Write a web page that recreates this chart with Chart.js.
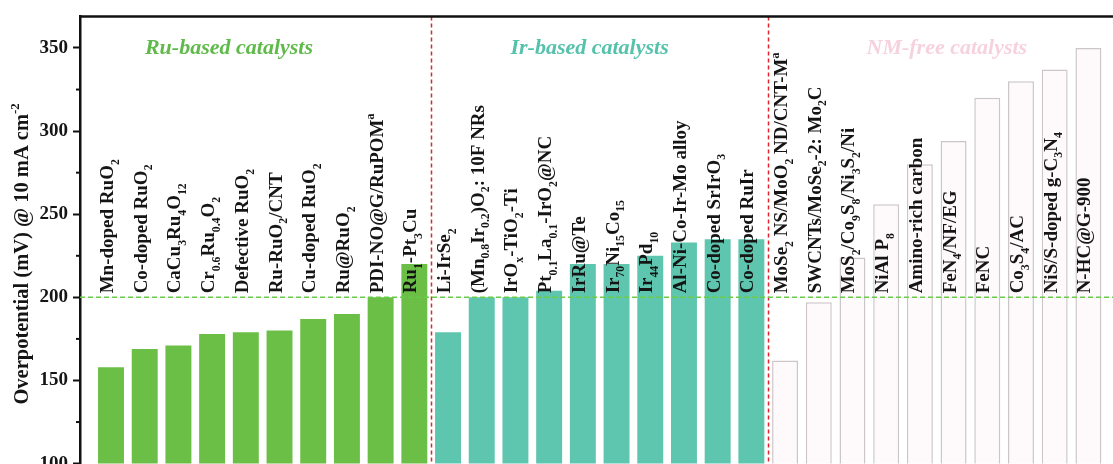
<!DOCTYPE html>
<html>
<head>
<meta charset="utf-8">
<script src="https://cdn.jsdelivr.net/npm/chart.js@4.4.1/dist/chart.umd.min.js"></script>
<style>
    html, body { margin: 0; padding: 0; background: #fff; overflow: hidden; }
    #wrap { width: 1113px; height: 480px; position: relative; }
</style>
</head>
<body>
<div id="wrap"><canvas id="ichart"></canvas></div>
<script>
//Catalyst names (_{..} = subscript, ^{..} = superscript) and overpotentials in mV
const ruLabels = ["Mn-doped RuO_{2}", "Co-doped RuO_{2}", "CaCu_{3}Ru_{4}O_{12}", "Cr_{0.6}Ru_{0.4}O_{2}", "Defective RuO_{2}",
    "Ru-RuO_{2}/CNT", "Cu-doped RuO_{2}", "Ru@RuO_{2}", "PDI-NO@G/RuPOM^{a}", "Ru_{1}-Pt_{3}Cu"];
const ruValues = [158, 169, 171, 178, 179, 180, 187, 190, 200, 220];

const irLabels = ["Li-IrSe_{2}", "(Mn_{0.8}Ir_{0.2})O_{2}: 10F NRs", "IrO_{x}-TiO_{2}-Ti", "Pt_{0.1}La_{0.1}-IrO_{2}@NC", "IrRu@Te",
    "Ir_{70}Ni_{15}Co_{15}", "Ir_{44}Pd_{10}", "Al-Ni-Co-Ir-Mo alloy", "Co-doped SrIrO_{3}", "Co-doped RuIr"];
const irValues = [179, 200, 200, 204, 220, 220, 225, 233, 235, 235];

const nmLabels = ["MoSe_{2} NS/MoO_{2} ND/CNT-M^{a}", "SWCNTs/MoSe_{2}-2: Mo_{2}C", "MoS_{2}/Co_{9}S_{8}/Ni_{3}S_{2}/Ni", "NiAl P_{8}",
    "Amino-rich carbon", "FeN_{4}/NF/EG", "FeNC", "Co_{3}S_{4}/AC", "NiS/S-doped g-C_{3}N_{4}", "N-HC@G-900"];
const nmValues = [162, 197, 224, 256, 280, 294, 320, 330, 337, 350];

const groupTitles = ["Ru-based catalysts", "Ir-based catalysts", "NM-free catalysts"];
const refLine = 200; //<--- benchmark overpotential

const serif = '"Liberation Serif", "Times New Roman", serif';
const allLabels = ruLabels.concat(irLabels, nmLabels);

function toPoints(values, start) {
    return values.map((v, i) => ({ x: start + i, y: v }));
}

//Splitting "RuO_{2}" into plain / sub / sup pieces
function parseRich(str) {
    const parts = [];
    const re = /([_^])\{([^}]*)\}/g;
    let last = 0, m;
    while ((m = re.exec(str)) !== null) {
        if (m.index > last) parts.push({ t: str.slice(last, m.index), k: "" });
        parts.push({ t: m[2], k: m[1] });
        last = re.lastIndex;
    }
    if (last < str.length) parts.push({ t: str.slice(last), k: "" });
    return parts;
}

function drawRich(ctx, str, x, y, size, color, align) {
    const parts = parseRich(str);
    const font = s => `bold ${s}px ${serif}`;
    let total = 0;
    parts.forEach(p => {
        ctx.font = font(p.k ? size * 0.62 : size);
        p.w = ctx.measureText(p.t).width;
        total += p.w;
    });
    let cx = align === "center" ? x - total / 2 : x;
    ctx.fillStyle = color;
    ctx.textBaseline = "alphabetic";
    ctx.textAlign = "left";
    parts.forEach(p => {
        ctx.font = font(p.k ? size * 0.62 : size);
        const dy = p.k === "_" ? size * 0.3 : (p.k === "^" ? -size * 0.45 : 0);
        ctx.fillText(p.t, cx, y + dy);
        cx += p.w;
    });
}

//Dashed guides, frame, minor ticks, names and titles
const decorPlugin = {
    id: "decor",
    afterDatasetsDraw(chart) {
        const { ctx, chartArea: a, scales: { x, y } } = chart;
        ctx.save();

        //separators between catalyst groups
        ctx.strokeStyle = "#e0262b";
        ctx.lineWidth = 1.5;
        ctx.setLineDash([4, 3]);
        [9.5, 19.5].forEach(v => {
            const px = Math.round(x.getPixelForValue(v)) + 0.5;
            ctx.beginPath();
            ctx.moveTo(px, a.top);
            ctx.lineTo(px, a.bottom);
            ctx.stroke();
        });

        //benchmark line
        ctx.strokeStyle = "#6acb4a";
        ctx.setLineDash([5, 3]);
        const py = y.getPixelForValue(refLine);
        ctx.beginPath();
        ctx.moveTo(a.left, py);
        ctx.lineTo(a.right, py);
        ctx.stroke();
        ctx.setLineDash([]);

        //top frame
        ctx.strokeStyle = "#111";
        ctx.lineWidth = 2.5;
        ctx.beginPath();
        ctx.moveTo(a.left - 1, a.top);
        ctx.lineTo(a.right, a.top);
        ctx.stroke();

        //minor ticks
        ctx.lineWidth = 2;
        for (let v = 125; v < y.max; v += 50) {
            const ty = y.getPixelForValue(v);
            ctx.beginPath();
            ctx.moveTo(a.left - 4, ty);
            ctx.lineTo(a.left, ty);
            ctx.stroke();
        }

        //catalyst names, vertical, starting just above the benchmark line
        allLabels.forEach((lab, i) => {
            ctx.save();
            ctx.translate(x.getPixelForValue(i) + 2, py - 4);
            ctx.rotate(-Math.PI / 2);
            drawRich(ctx, lab, 0, 0, 19, "#151515", "left");
            ctx.restore();
        });

        //group titles
        const titleX = [3.5, 14.2, 24.8];
        const titleCol = ["#5fba4a", "#55c2ab", "#f6d2de"];
        ctx.font = `italic bold 22px ${serif}`;
        ctx.textAlign = "center";
        ctx.textBaseline = "middle";
        groupTitles.forEach((t, i) => {
            ctx.fillStyle = titleCol[i];
            ctx.fillText(t, x.getPixelForValue(titleX[i]), y.getPixelForValue(350));
        });

        //y axis title
        ctx.save();
        ctx.translate(28, (a.top + a.bottom) / 2 + 14);
        ctx.rotate(-Math.PI / 2);
        drawRich(ctx, "Overpotential (mV) @ 10 mA cm^{-2}", 0, 0, 20.5, "#151515", "center");
        ctx.restore();

        ctx.restore();
    }
};

new Chart("ichart", {
    type: "bar",
    data: {
        datasets: [
            {
                label: "Ru",
                data: toPoints(ruValues, 0),
                backgroundColor: "#6cbf46",
                borderWidth: 0
            },
            {
                label: "Ir",
                data: toPoints(irValues, 10),
                backgroundColor: "#5ec6ae",
                borderWidth: 0
            },
            {
                label: "NM",
                data: toPoints(nmValues, 20),
                backgroundColor: "#fefafb",
                borderColor: "#cdc6c8",
                borderWidth: 1.5
            }
        ]
    },
    options: {
        responsive: true,
        maintainAspectRatio: false,
        animation: false,
        grouped: false,
        barPercentage: 0.77,
        categoryPercentage: 1,
        layout: { padding: { top: 12, bottom: 16, left: 0, right: 0 } },
        plugins: { legend: { display: false }, tooltip: { enabled: false } },
        scales: {
            x: {
                type: "linear",
                offset: false,
                min: -0.92,
                max: 29.73,
                display: false
            },
            y: {
                min: 100,
                max: 369,
                afterFit: s => { s.width = 80; },
                border: { display: true, color: "#111", width: 2.5 },
                grid: { drawOnChartArea: false, drawTicks: true, tickLength: 7, tickColor: "#111", tickWidth: 2 },
                ticks: {
                    stepSize: 50,
                    includeBounds: false,
                    padding: 5,
                    color: "#151515",
                    font: { family: serif, weight: "bold", size: 19 }
                }
            }
        }
    },
    plugins: [decorPlugin]
});
</script>
</body>
</html>
